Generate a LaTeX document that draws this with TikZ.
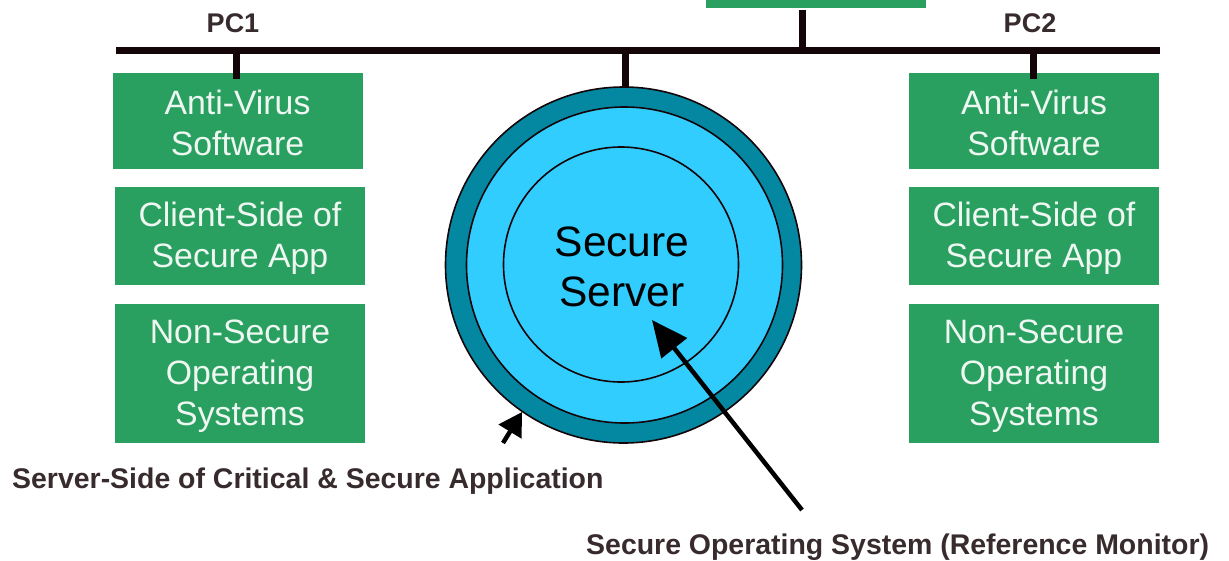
\documentclass[tikz,border=0pt]{standalone}
\usepackage{fontspec}
\setmainfont{Liberation Sans}
\usetikzlibrary{arrows.meta}
\definecolor{boxgreen}{RGB}{42,160,96}
\definecolor{ringteal}{RGB}{4,136,162}
\definecolor{lightcyan}{RGB}{50,205,255}
\definecolor{inkblack}{RGB}{20,5,8}
\tikzset{
  x=1pt,y=-1pt,
  greenbox/.style={fill=boxgreen,draw=none,text=white!92!boxgreen,inner sep=0pt,minimum width=250pt,align=center,font=\fontsize{33.8}{40.8}\selectfont},
  buswire/.style={draw=inkblack,line width=7pt},
  boldlabel/.style={font=\fontsize{28.45}{32}\selectfont\bfseries,text=inkblack!85!white,inner sep=0pt},
  pclabel/.style={font=\fontsize{27}{30}\selectfont\bfseries,text=inkblack!85!white,inner sep=0pt},
  ringc/.style={circle,draw=inkblack,inner sep=0pt},
  pointer/.style={draw=black,line width=4.5pt}
}
\begin{document}
\begin{tikzpicture}
\useasboundingbox (0,0) rectangle (1229,560);
\node[ringc,fill=ringteal,line width=1.6pt,minimum size=356pt] (outer) at (623.5,265) {};
\node[ringc,fill=lightcyan,line width=1.6pt,minimum size=316pt] (middle) at (624.5,265) {};
\node[ringc,fill=lightcyan,line width=1.6pt,minimum size=235pt] (inner) at (621,264.5) {};
\node[inner sep=0pt,align=center,text=black,font=\fontsize{42.5}{50}\selectfont] (server) at (622,267) {Secure\\Server};
\node[greenbox,minimum height=96pt,text height=72pt,text depth=4pt] (a1) at (237.5,121) {Anti-Virus\\Software};
\node[greenbox,minimum height=98pt,text height=70pt,text depth=8pt] (c1) at (240,236) {Client-Side of\\Secure App};
\node[greenbox,minimum height=139pt,text height=111pt,text depth=8pt] (n1) at (240,373.5) {Non-Secure\\Operating\\Systems};
\node[greenbox,minimum height=96pt,text height=72pt,text depth=4pt] (a2) at (1034,121) {Anti-Virus\\Software};
\node[greenbox,minimum height=98pt,text height=70pt,text depth=8pt] (c2) at (1034,236) {Client-Side of\\Secure App};
\node[greenbox,minimum height=139pt,text height=111pt,text depth=8pt] (n2) at (1034,373.5) {Non-Secure\\Operating\\Systems};
\node[fill=boxgreen,inner sep=0pt,minimum width=220pt,minimum height=16pt] (top) at (816,0) {};
\coordinate (busL) at (116,50);
\coordinate (busR) at (1160,50);
\coordinate (j1) at (236,50);
\coordinate (j2) at (625,50);
\coordinate (j3) at (802,50);
\coordinate (j4) at (1033,50);
\coordinate (s1) at (236,79);
\coordinate (s2) at (625,88);
\coordinate (s3) at (802,10);
\coordinate (s4) at (1033,79);
\draw[buswire] (busL) -- (busR);
\draw[buswire] (j1) -- (s1);
\draw[buswire] (j2) -- (s2);
\draw[buswire] (j3) -- (s3);
\draw[buswire] (j4) -- (s4);
\node[pclabel] (pc1) at (233,23) {PC1};
\node[pclabel] (pc2) at (1030,23) {PC2};
\node[boldlabel,anchor=west] (ssl) at (12,481.5) {Server-Side of Critical \& Secure Application};
\node[boldlabel,anchor=west] (sos) at (586,547) {Secure Operating System (Reference Monitor)};
\coordinate (t1) at (802,510);
\coordinate (h1) at (652,320);
\coordinate (t2) at (503,443);
\coordinate (h2) at (522,412);
\draw[pointer,-{Triangle[length=36pt,width=32pt]}] (t1) -- (h1);
\draw[pointer,-{Triangle[length=23pt,width=26pt]}] (t2) -- (h2);
\end{tikzpicture}
\end{document}
